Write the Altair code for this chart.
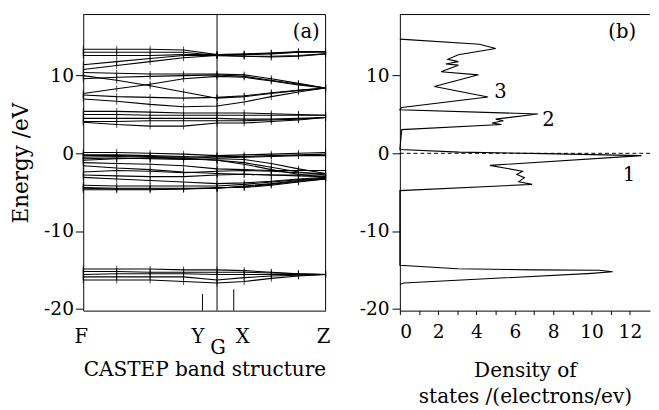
import altair as alt
import pandas as pd

# ---------------- band structure (panel a) ----------------
# k-path positions (F -> G -> Z), G at 0.552
K_PTS = [0.0, 0.138, 0.276, 0.414, 0.552, 0.664, 0.776, 0.888, 1.0]

# band energies (eV) at K_PTS
BANDS = [
    # upper conduction group
    [13.4, 13.4, 13.4, 13.3, 12.7, 12.8, 12.9, 13.1, 13.1],
    [13.0, 13.0, 13.0, 13.0, 12.6, 12.7, 12.9, 13.0, 13.0],
    [12.6, 12.6, 12.6, 12.7, 12.7, 12.7, 12.8, 13.0, 13.1],
    [11.4, 11.8, 12.2, 12.6, 12.6, 12.5, 12.5, 12.6, 12.8],
    [10.8, 11.3, 11.8, 12.3, 12.6, 12.5, 12.4, 12.5, 12.8],
    [10.4, 10.3, 10.2, 10.2, 10.2, 10.1, 9.6, 9.0, 8.4],
    [9.6, 9.8, 9.9, 10.0, 10.1, 9.9, 9.4, 8.9, 8.4],
    [10.0, 9.4, 8.7, 7.9, 7.1, 7.3, 7.7, 8.1, 8.4],
    [7.7, 8.3, 8.9, 9.6, 9.9, 9.8, 9.3, 8.8, 8.4],
    [7.5, 7.3, 7.2, 7.1, 7.2, 7.4, 7.8, 8.1, 8.4],
    [7.0, 6.7, 6.3, 6.0, 6.1, 6.6, 7.3, 7.9, 8.4],
    # middle conduction group
    [5.4, 5.4, 5.3, 5.2, 5.2, 5.2, 5.1, 5.0, 4.9],
    [5.0, 5.0, 4.9, 4.9, 4.9, 4.9, 4.9, 4.9, 4.9],
    [4.5, 4.5, 4.5, 4.5, 4.5, 4.4, 4.4, 4.5, 4.6],
    [4.1, 4.1, 4.2, 4.2, 4.2, 4.2, 4.3, 4.4, 4.6],
    [4.0, 3.7, 3.5, 3.5, 3.9, 3.9, 4.1, 4.3, 4.6],
    # valence group
    [0.1, 0.1, 0.0, -0.1, -0.3, -0.2, -0.1, 0.0, 0.1],
    [-0.2, -0.2, -0.3, -0.4, -0.6, -0.5, -0.4, -0.3, -0.3],
    [-0.3, -0.3, -0.4, -0.5, -0.4, -0.4, -0.3, -0.2, -0.1],
    [-0.5, -0.4, -0.5, -0.6, -0.9, -1.2, -1.8, -2.4, -2.8],
    [-0.7, -0.6, -0.7, -0.8, -0.7, -0.8, -1.3, -2.0, -2.6],
    [-0.9, -0.7, -0.6, -0.7, -0.9, -1.4, -2.1, -2.7, -3.1],
    [-1.2, -1.3, -1.4, -1.6, -2.0, -2.1, -2.2, -2.2, -2.2],
    [-1.6, -1.9, -2.1, -2.4, -2.6, -2.7, -2.8, -2.8, -2.8],
    [-2.4, -2.2, -2.3, -2.5, -2.3, -2.2, -2.3, -2.5, -2.6],
    [-2.8, -2.9, -3.0, -3.0, -2.8, -2.7, -2.8, -2.9, -3.0],
    [-3.1, -3.3, -3.5, -3.7, -3.9, -3.8, -3.6, -3.3, -3.1],
    [-4.1, -4.2, -4.2, -4.2, -4.2, -4.0, -3.7, -3.4, -3.2],
    [-4.4, -4.5, -4.5, -4.5, -4.5, -4.2, -3.9, -3.5, -3.2],
    [-4.5, -4.6, -4.6, -4.6, -4.4, -4.4, -4.1, -3.7, -3.3],
    [-4.7, -4.7, -4.7, -4.6, -4.5, -4.3, -4.0, -3.6, -3.3],
    # core group
    [-14.9, -14.9, -14.9, -15.0, -15.0, -15.1, -15.3, -15.5, -15.6],
    [-15.2, -15.2, -15.3, -15.3, -15.3, -15.3, -15.4, -15.5, -15.6],
    [-15.6, -15.5, -15.5, -15.5, -15.6, -15.6, -15.6, -15.6, -15.6],
    [-15.9, -15.9, -15.9, -15.9, -16.3, -16.0, -15.8, -15.7, -15.6],
    [-16.3, -16.3, -16.3, -16.5, -16.7, -16.5, -16.1, -15.8, -15.6],
]

KPATH_NAMES = ["F", "Y", "G", "X", "Z"]
KPATH_POS = [0.0, 0.492, 0.552, 0.621, 1.0]
MARK_K = [0.492, 0.621]        # short markers at Y and X
MARK_TOP = [-18.1, -17.5]

E_MIN, E_MAX = -20.25, 17.86

# ---------------- density of states (panel b) ----------------
DOS_E = [-16.9, -16.7, -15.45, -15.25, -15.05, -15.0, -14.85, -14.4,
         -4.8, -4.0, -3.65, -3.14, -2.72, -2.3, -1.55, -0.3, -0.04, 0.15, 0.5,
         3.05, 3.7, 3.9, 4.2, 4.4, 5.07, 5.6, 5.9, 7.26, 8.6, 10.1, 10.5,
         11.35, 11.5, 11.8, 12.1, 12.7, 13.5, 14.05, 14.7]
DOS_V = [0.0, 0.2, 10.0, 11.1, 10.4, 7.0, 3.0, 0.0,
         0.0, 6.9, 6.2, 6.5, 6.1, 6.4, 4.7, 12.6, 7.5, 3.1, 0.0,
         0.1, 5.3, 4.8, 5.4, 5.0, 7.2, 0.0, 0.1, 4.6, 1.8, 4.1, 2.15,
         3.05, 2.4, 3.05, 2.5, 3.05, 5.0, 4.15, 0.0]
DOS_TICKS = list(range(13))
PEAK_LABELS = ["3", "2", "1"]
PEAK_X = [5.25, 7.75, 11.95]
PEAK_E = [7.9, 4.3, -2.8]

FONT = "DejaVu Serif"
WA, WB, H = 248, 256, 303

rows = []
for b, vals in enumerate(BANDS):
    for i, (k, e) in enumerate(zip(K_PTS, vals)):
        rows.append({"band": b, "i": i, "k": k, "E": e})
bands_df = pd.DataFrame(rows)

yscale = alt.Scale(domain=[E_MIN, E_MAX], nice=False, zero=False)
xk = alt.Scale(domain=[0, 1], nice=False, zero=False)
xd = alt.Scale(domain=[0, 13.05], nice=False, zero=False)

yaxis_a = alt.Axis(values=[-20, -10, 0, 10], labelExpr="'' + datum.value",
                   tickSize=8, labelPadding=2, title="Energy /eV",
                   titleFontSize=22, titlePadding=11)
xaxis_a = alt.Axis(labels=False, ticks=False, title="CASTEP band structure",
                   titlePadding=50)
yaxis_b = alt.Axis(values=[-20, -10, 0, 10], labelExpr="'' + datum.value",
                   tickSize=8, labelPadding=3, title=None)
xaxis_b = alt.Axis(values=DOS_TICKS,
                   labelExpr="datum.value % 2 == 0 ? '' + datum.value : ''",
                   tickSize=4, labelPadding=8,
                   title=["Density of", "states /(electrons/ev)"],
                   titlePadding=20, titleLineHeight=27)


def XA(f):
    return alt.X(f, type="quantitative", scale=xk, axis=xaxis_a)


def YA(f):
    return alt.Y(f, type="quantitative", scale=yscale, axis=yaxis_a)


def XB(f):
    return alt.X(f, type="quantitative", scale=xd, axis=xaxis_b)


def YB(f):
    return alt.Y(f, type="quantitative", scale=yscale, axis=yaxis_b)


base_a = alt.Chart(bands_df)
lines_a = base_a.mark_line(color="black", strokeWidth=1.1, clip=True).encode(
    x=XA("k"), y=YA("E"), detail="band:N", order="i:Q")
ticks_a = base_a.mark_tick(orient="vertical", size=7, thickness=1, color="black").encode(
    x=XA("k"), y=YA("E"))

g_rule = alt.Chart(pd.DataFrame({"k": [KPATH_POS[2], KPATH_POS[4]]})).mark_rule(
    color="black", strokeWidth=1).encode(x=XA("k"))

marks_df = pd.DataFrame({"k": MARK_K, "E": MARK_TOP, "bot": [E_MIN, E_MIN]})
yx_marks = alt.Chart(marks_df).mark_rule(color="black", strokeWidth=1).encode(
    x=XA("k"), y=YA("E"), y2="bot:Q")

top_a = alt.Chart(pd.DataFrame({"t": [0]})).mark_rule(color="black", strokeWidth=1).encode(
    y=alt.value(0), x=alt.value(0), x2=alt.value(WA))

kp_df = pd.DataFrame({"name": KPATH_NAMES, "k": KPATH_POS})


def kp_text(names, align, dx, ypix):
    return alt.Chart(kp_df[kp_df["name"].isin(names)]).mark_text(
        font=FONT, fontSize=20, align=align, dx=dx, baseline="middle", color="black"
    ).encode(x=XA("k"), y=alt.value(ypix), text="name:N")


lbl_fz = kp_text(["F", "Z"], "center", -2, 330)
lbl_y = kp_text(["Y"], "right", 2, 330)
lbl_x = kp_text(["X"], "left", 2, 330)
lbl_g = kp_text(["G"], "center", 1, 341)

tag_a = alt.Chart(pd.DataFrame({"k": [0.92], "E": [15.6], "t": ["(a)"]})).mark_text(
    font=FONT, fontSize=20, color="black", baseline="middle").encode(
    x=XA("k"), y=YA("E"), text="t:N")

panel_a = alt.layer(lines_a, ticks_a, g_rule, yx_marks, top_a,
                    lbl_fz, lbl_y, lbl_x, lbl_g, tag_a).properties(width=WA, height=H)

# ---------------- panel b ----------------
dos_df = pd.DataFrame({"E": DOS_E, "D": DOS_V, "i": list(range(len(DOS_E)))})

dos_line = alt.Chart(dos_df).mark_line(color="black", strokeWidth=1.1).encode(
    x=XB("D"), y=YB("E"), order="i:Q")
fermi = alt.Chart(pd.DataFrame({"E": [0.0]})).mark_rule(
    color="black", strokeWidth=1, strokeDash=[4, 3]).encode(y=YB("E"))
top_b = alt.Chart(pd.DataFrame({"t": [0]})).mark_rule(color="black", strokeWidth=1).encode(
    y=alt.value(0), x=alt.value(0), x2=alt.value(WB))
peaks = alt.Chart(pd.DataFrame({"D": PEAK_X, "E": PEAK_E, "t": PEAK_LABELS})).mark_text(
    font=FONT, fontSize=20, color="black", baseline="middle").encode(
    x=XB("D"), y=YB("E"), text="t:N")
tag_b = alt.Chart(pd.DataFrame({"D": [11.6], "E": [15.6], "t": ["(b)"]})).mark_text(
    font=FONT, fontSize=20, color="black", baseline="middle").encode(
    x=XB("D"), y=YB("E"), text="t:N")

panel_b = alt.layer(dos_line, fermi, top_b, peaks, tag_b).properties(width=WB, height=H)

chart = alt.hconcat(panel_a, panel_b, spacing=29).properties(
    padding={"left": 2, "top": 1, "right": 0, "bottom": 0}
).configure_view(strokeWidth=0).configure_axis(
    grid=False, domainColor="black", domainWidth=1, tickColor="black", tickWidth=1,
    labelColor="black", titleColor="black", labelFont=FONT, titleFont=FONT,
    labelFontSize=19, titleFontSize=20.5, titleFontWeight="normal"
)

chart.save("out.html", embed_options={"renderer": "svg", "actions": False})
